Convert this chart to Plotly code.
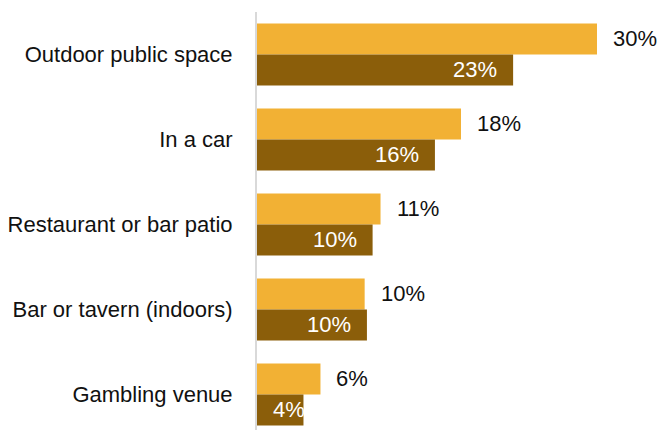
import plotly.graph_objects as go

categories = ["Outdoor public space", "In a car", "Restaurant or bar patio",
              "Bar or tavern (indoors)", "Gambling venue"]
series_a = [30.0, 18.0, 10.9, 9.5, 5.6]   # light
series_b = [22.6, 15.7, 10.2, 9.7, 4.1]   # dark
labels_a = ["30%", "18%", "11%", "10%", "6%"]
labels_b = ["23%", "16%", "10%", "10%", "4%"]

LIGHT = "#F2B134"
DARK = "#8B5E0A"
FONT = "Liberation Sans Narrow, Arial Narrow, Liberation Sans, Arial, sans-serif"
FS = 22

fig = go.Figure()
fig.add_trace(go.Bar(y=categories, x=series_a, orientation="h", marker_color=LIGHT,
                     marker_line_width=0, name="A", offsetgroup="a"))
fig.add_trace(go.Bar(y=categories, x=series_b, orientation="h", marker_color=DARK,
                     marker_line_width=0, name="B", offsetgroup="b"))

anns = []
for c, v, t in zip(categories, series_a, labels_a):
    anns.append(dict(x=v, y=c, text=t, xref="x", yref="y", xanchor="left", yanchor="middle",
                     xshift=14, yshift=16, showarrow=False, font=dict(size=FS, color="#111111", family=FONT)))
for c, v, t in zip(categories, series_b, labels_b):
    if v < 6:
        anns.append(dict(x=0, y=c, text=t, xref="x", yref="y", xanchor="left", yanchor="middle",
                         xshift=14, yshift=-15, showarrow=False, font=dict(size=FS, color="white", family=FONT)))
    else:
        anns.append(dict(x=v, y=c, text=t, xref="x", yref="y", xanchor="right", yanchor="middle",
                         xshift=-14, yshift=-15, showarrow=False, font=dict(size=FS, color="white", family=FONT)))

fig.update_layout(
    width=660, height=430,
    margin=dict(l=257, r=0, t=12, b=0),
    paper_bgcolor="white", plot_bgcolor="white",
    showlegend=False,
    barmode="group", bargap=0.27, bargroupgap=0,
    annotations=anns,
    font=dict(family=FONT, size=FS, color="#111111"),
)
fig.update_xaxes(range=[0, 35.56], visible=False, showgrid=False, zeroline=False, automargin=False)
fig.update_yaxes(type="category", categoryorder="array", categoryarray=categories,
                 range=[4.418, -0.5], showgrid=False, zeroline=False, automargin=False,
                 showline=True, linecolor="#d9d9d9", linewidth=2, ticks="",
                 ticklabelstandoff=18, tickfont=dict(size=FS, family=FONT, color="#111111"))

fig.write_html("out.html")
